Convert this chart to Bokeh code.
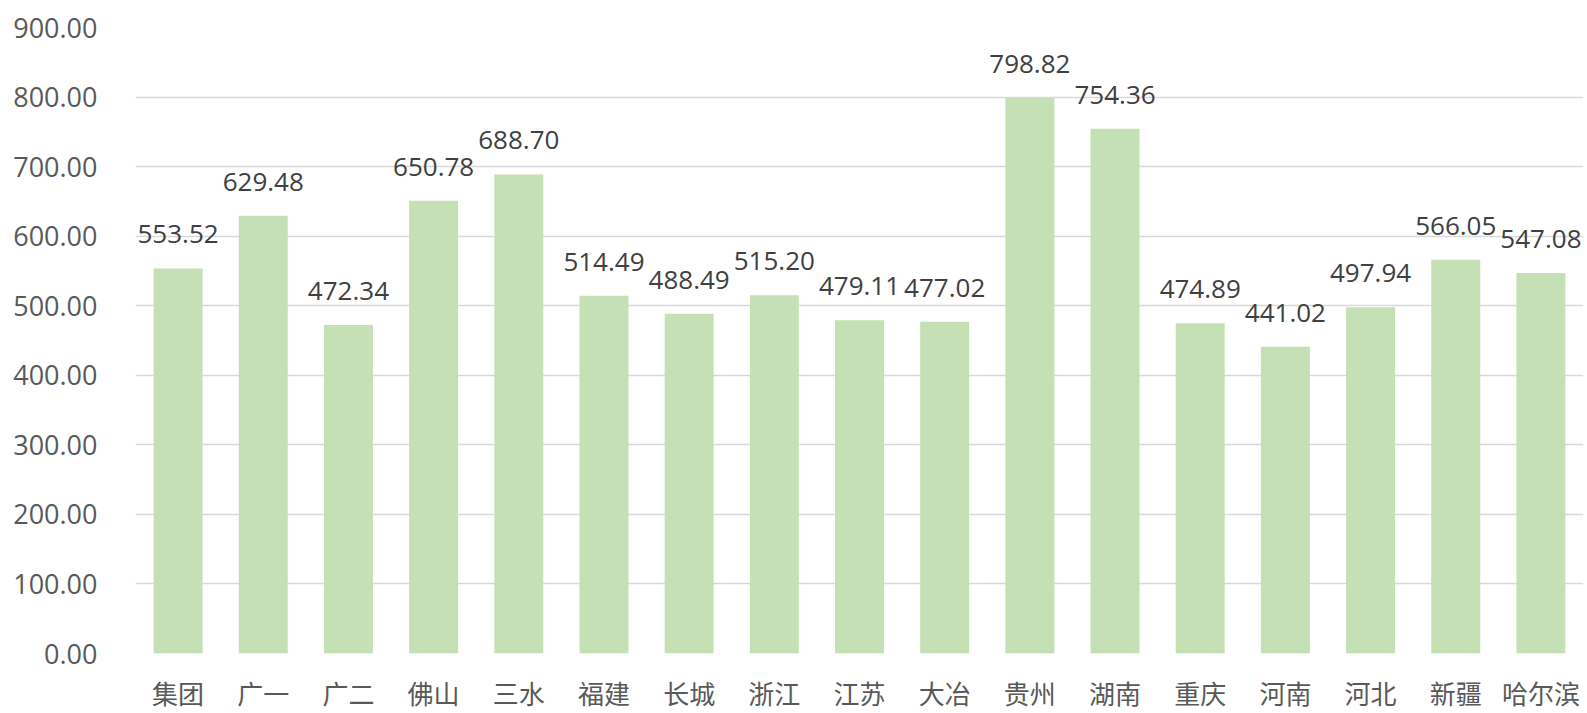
from bokeh.plotting import figure
from bokeh.models import ColumnDataSource, FactorRange, Range1d, NumeralTickFormatter, FixedTicker
from bokeh.core.properties import value
from bokeh.embed import file_html
from bokeh.resources import INLINE

categories = ["集团", "广一", "广二", "佛山", "三水", "福建", "长城", "浙江", "江苏", "大冶",
              "贵州", "湖南", "重庆", "河南", "河北", "新疆", "哈尔滨"]
values = [553.52, 629.48, 472.34, 650.78, 688.70, 514.49, 488.49, 515.20, 479.11, 477.02,
          798.82, 754.36, 474.89, 441.02, 497.94, 566.05, 547.08]
labels = [f"{v:.2f}" for v in values]
y_ticks = [0, 100, 200, 300, 400, 500, 600, 700, 800, 900]

source = ColumnDataSource(data=dict(cat=categories, val=values, lab=labels))

p = figure(x_range=FactorRange(*categories, range_padding=0), y_range=Range1d(0, 900),
           width=1587, height=713, output_backend="svg", toolbar_location=None,
           min_border_left=135, min_border_right=4, min_border_top=27, min_border_bottom=60)

p.vbar(x="cat", top="val", width=0.575, source=source, fill_color="#c5e0b4", line_color=None)

p.text(x="cat", y="val", text="lab", source=source, text_align="center",
       text_baseline="alphabetic", y_offset=-34, text_font=value("Open Sans"),
       text_font_size="26px", text_color="#404040")

p.outline_line_color = None
p.xgrid.grid_line_color = None
p.ygrid.grid_line_color = "#d9d9d9"
p.ygrid.grid_line_width = 1.5

p.yaxis.ticker = FixedTicker(ticks=y_ticks)
p.yaxis.formatter = NumeralTickFormatter(format="0.00")
p.yaxis.axis_line_color = None
p.yaxis.major_tick_line_color = None
p.yaxis.minor_tick_line_color = None
p.yaxis.major_label_text_font = "Open Sans"
p.yaxis.major_label_text_font_size = "27px"
p.yaxis.major_label_text_color = "#595959"
p.yaxis.major_label_standoff = 32

p.xaxis.axis_line_color = None
p.xaxis.major_tick_line_color = None
p.xaxis.major_label_text_font = "Noto Sans CJK SC"
p.xaxis.major_label_text_font_size = "26px"
p.xaxis.major_label_text_color = "#595959"
p.xaxis.major_label_standoff = 14

open("out.html", "w").write(file_html(p, INLINE))
